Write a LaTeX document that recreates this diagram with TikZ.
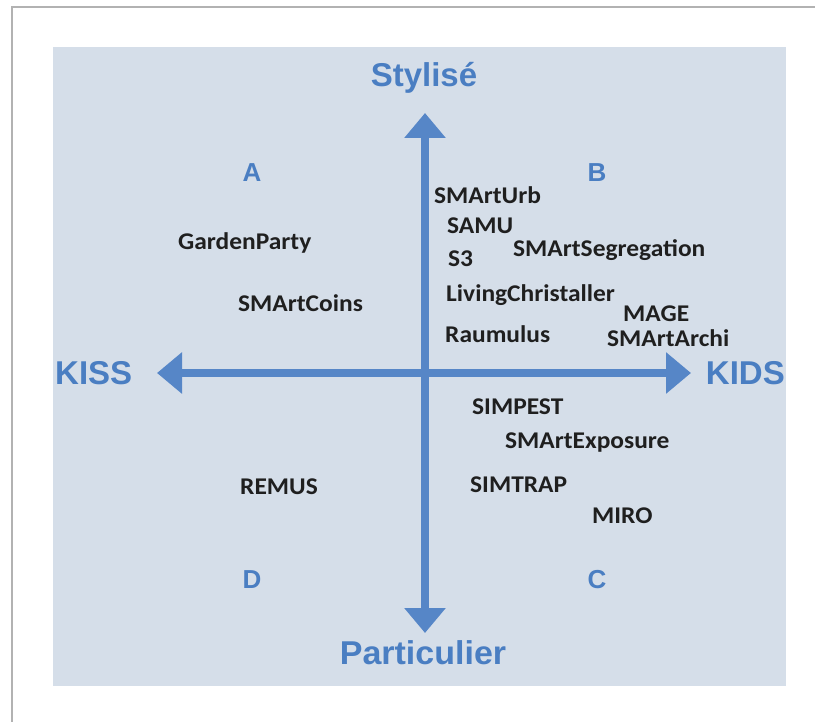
\documentclass[tikz,border=0pt]{standalone}
\usepackage{fontspec}
\setmainfont{Carlito}
\newfontfamily\modelfont[FakeStretch=1.06]{Carlito}
\newfontfamily\polefont{Liberation Sans}
\usepackage{tikz}
\usetikzlibrary{arrows.meta}

\definecolor{panelblue}{RGB}{213,222,233}
\definecolor{poleblue}{RGB}{74,126,194}
\definecolor{axisblue}{RGB}{86,134,199}

\begin{document}
\begin{tikzpicture}[x=1pt,y=-1pt,
    pole/.style={font=\polefont\fontsize{33}{36}\selectfont\bfseries, text=poleblue, inner sep=0pt},
    quad/.style={font=\polefont\fontsize{26}{28}\selectfont\bfseries, text=poleblue, inner sep=0pt},
    model/.style={font=\modelfont\fontsize{24}{27}\selectfont\bfseries, text=black!88, inner sep=0pt, anchor=base west},
    axis/.style={axisblue, line width=8pt, {Triangle[length=25pt,width=40pt]}-{Triangle[length=25pt,width=40pt]}}]
  \useasboundingbox (0,0) rectangle (815,722);
  % page and panel
  \fill[white] (0,0) rectangle (815,722);
  \draw[black!30, line width=1.5pt] (12,722) -- (12,7) -- (815,7);
  \fill[panelblue] (53,47) rectangle (786,686);
  % axes
  \coordinate (top) at (425,113);
  \coordinate (bottom) at (425,633);
  \coordinate (left) at (157,373);
  \coordinate (right) at (691,373);
  \draw[axis] (left) -- (right);
  \draw[axis] (bottom) -- (top);
  % poles
  \node[pole] (styl) at (424,78) {Stylisé};
  \node[pole, xscale=1.03] (part) at (423,653) {Particulier};
  \node[pole, anchor=west] (kiss) at (55,373) {KISS};
  \node[pole, anchor=east] (kids) at (785,373) {KIDS};
  % quadrants
  \node[quad] (qa) at (252,173) {A};
  \node[quad] (qb) at (597,173) {B};
  \node[quad] (qc) at (597,580) {C};
  \node[quad] (qd) at (252,580) {D};
  % models
  \node[model] (garden) at (178,250) {GardenParty};
  \node[model] (coins) at (238,312) {SMArtCoins};
  \node[model] (urb) at (434,204) {SMArtUrb};
  \node[model] (samu) at (447,234) {SAMU};
  \node[model] (s3) at (448,267) {S3};
  \node[model] (segreg) at (513,257) {SMArtSegregation};
  \node[model] (living) at (446,302) {LivingChristaller};
  \node[model] (mage) at (623,322) {MAGE};
  \node[model] (raum) at (445,343) {Raumulus};
  \node[model] (archi) at (607,347) {SMArtArchi};
  \node[model] (simpest) at (472,415) {SIMPEST};
  \node[model] (expo) at (505,449) {SMArtExposure};
  \node[model] (simtrap) at (470,492) {SIMTRAP};
  \node[model] (miro) at (592,523) {MIRO};
  \node[model] (remus) at (240,494) {REMUS};
\end{tikzpicture}
\end{document}
